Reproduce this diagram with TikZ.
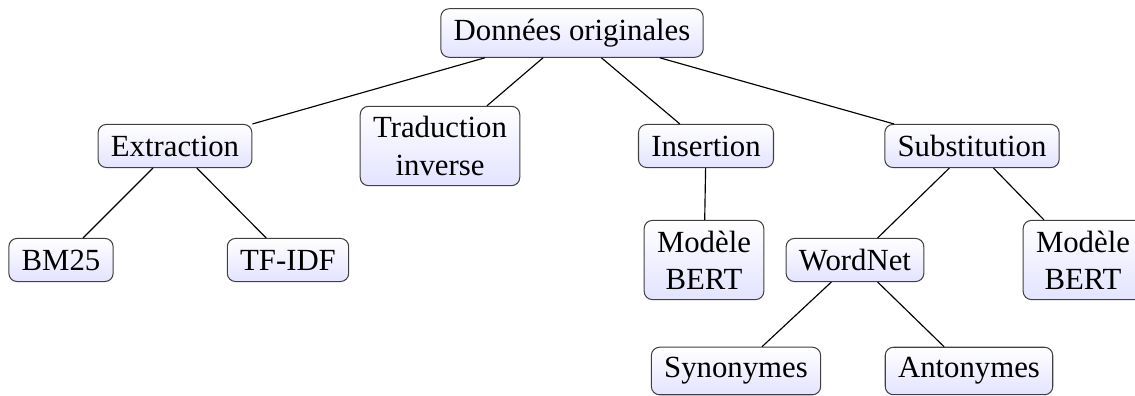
\documentclass[tikz,border=0pt]{standalone}
\usepackage{fontspec}
\setmainfont{Liberation Serif}
\begin{document}
\begin{tikzpicture}[x=0.39pt,y=-0.39pt,
  box/.style={draw=black!75, rounded corners=3.2pt, top color=white, bottom color=blue!11,
    inner xsep=5pt, inner ysep=4pt, minimum height=16.8pt, align=center,
    font=\fontsize{12}{14.5}\selectfont},
  link/.style={draw=black, line width=0.45pt}]
\useasboundingbox (0,0) rectangle (1135,396);
% root
\node[box] (root) at (572,33) {Données originales};
% first level
\node[box] (extr) at (175,146) {Extraction};
\node[box] (trad) at (440,146) {Traduction\\inverse};
\node[box] (ins)  at (706,146) {Insertion};
\node[box] (sub)  at (972,146) {Substitution};
% second level
\node[box] (bm)   at (61,260)  {BM25};
\node[box] (tfidf) at (288,260) {TF-IDF};
\node[box] (bertA) at (704,260) {Modèle\\BERT};
\node[box] (wn)   at (855,260) {WordNet};
\node[box] (bertB) at (1083,260) {Modèle\\BERT};
% third level
\node[box] (syn)  at (736,371) {Synonymes};
\node[box] (ant)  at (969,371) {Antonymes};
% edges
\draw[link] (root) -- (extr);
\draw[link] (root) -- (trad);
\draw[link] (root) -- (ins);
\draw[link] (root) -- (sub);
\draw[link] (extr) -- (bm);
\draw[link] (extr) -- (tfidf);
\draw[link] (ins) -- (bertA);
\draw[link] (sub) -- (wn);
\draw[link] (sub) -- (bertB);
\draw[link] (wn) -- (syn);
\draw[link] (wn) -- (ant);
\end{tikzpicture}
\end{document}
